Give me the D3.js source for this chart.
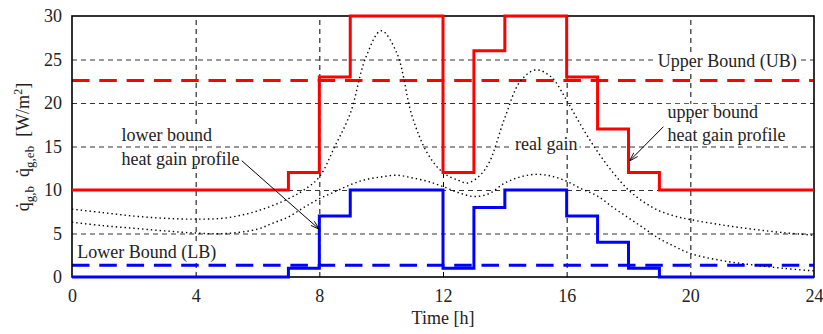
<!DOCTYPE html>
<html>
<head>
<meta charset="utf-8">
<script src="https://cdn.jsdelivr.net/npm/d3@7"></script>
<style>
  body { margin: 0; background: #fff; }
  text { font-family: "Liberation Serif", "Times New Roman", serif; fill: #222; }
</style>
</head>
<body>
<div id="chart"></div>
<script>
// Data
const xTicks = [0, 4, 8, 12, 16, 20, 24];
const yTicks = [0, 5, 10, 15, 20, 25, 30];

// step profiles (value held from stepHours[i] to stepHours[i+1])
const stepHours = [0, 7, 8, 9, 12, 13, 14, 16, 17, 18, 19, 24];
const upperProfile = [10, 12, 23, 30, 12, 26, 30, 23, 17, 12, 10];
const lowerProfile = [0, 1, 7, 10, 1, 8, 10, 7, 4, 1, 0];

const upperBound = 22.6;
const lowerBound = 1.35;

// real gain curves (dotted)
const highGainHours = [0, 1, 2, 3, 4, 5, 6, 7, 7.5, 8, 8.5, 9, 9.5, 10, 10.5, 11, 11.5, 12, 12.5, 12.8, 13.2, 13.5, 14, 14.5, 15, 15.5, 16, 16.5, 17, 17.5, 18, 18.5, 19, 19.5, 20, 21, 22, 23, 24];
const highGain = [7.8, 7.4, 7.0, 6.75, 6.65, 6.8, 7.6, 9.0, 10.0, 11.5, 15.0, 18.8, 25.2, 28.3, 25.8, 18.5, 14.2, 12.0, 11.1, 10.8, 11.7, 13.2, 18.3, 22.5, 23.8, 23.0, 20.3, 17.2, 14.4, 12.0, 10.0, 8.6, 7.6, 7.0, 6.6, 6.0, 5.5, 5.1, 4.8];

const lowGainHours = [0, 1, 2, 3, 4, 5, 6, 6.5, 7, 7.5, 8, 8.5, 9, 9.5, 10, 10.5, 11, 11.5, 12, 12.5, 13, 13.5, 14, 14.5, 15, 15.5, 16, 16.5, 17, 17.5, 18, 18.5, 19, 19.5, 20, 21, 22, 23, 24];
const lowGain = [6.3, 5.9, 5.6, 5.3, 5.05, 5.0, 5.5, 6.2, 6.9, 8.0, 9.0, 9.8, 10.6, 11.2, 11.5, 11.7, 11.4, 11.0, 10.4, 9.7, 9.25, 9.6, 10.8, 11.5, 11.8, 11.6, 11.0, 10.1, 9.3, 8.0, 6.8, 5.6, 4.4, 3.5, 2.7, 1.9, 1.4, 1.0, 0.7];

// Dimensions
const margin = { top: 16, right: 9, bottom: 57, left: 72 };
const totalW = 823, totalH = 334;
const width = totalW - margin.left - margin.right;
const height = totalH - margin.top - margin.bottom;
const serif = '"Liberation Serif", "Times New Roman", serif';

const svg = d3.select('#chart')
    .append('svg')
    .attr('width', totalW)
    .attr('height', totalH);

const defs = svg.append('defs');
defs.append('marker')
    .attr('id', 'arrow')
    .attr('viewBox', '0 0 10 10')
    .attr('refX', 10).attr('refY', 5)
    .attr('markerWidth', 9).attr('markerHeight', 9)
    .attr('markerUnits', 'userSpaceOnUse')
    .attr('orient', 'auto')
    .append('path')
    .attr('d', 'M0,2 L10,5 L0,8')
    .attr('fill', 'none')
    .attr('stroke', '#000')
    .attr('stroke-width', 1);

const g = svg.append('g')
    .attr('transform', `translate(${margin.left}, ${margin.top})`);

const x = d3.scaleLinear().domain([0, 24]).range([0, width]);
const y = d3.scaleLinear().domain([0, 30]).range([height, 0]);

// grid
const xGrid = g.append('g')
    .attr('transform', `translate(0, ${height})`)
    .call(d3.axisBottom(x).tickValues(xTicks.slice(1, -1)).tickSize(-height).tickFormat(''));
xGrid.select('.domain').remove();
xGrid.selectAll('line').attr('stroke', '#000').attr('stroke-dasharray', '5,4');

const yGrid = g.append('g')
    .call(d3.axisLeft(y).tickValues(yTicks.slice(1, -1)).tickSize(-width).tickFormat(''));
yGrid.select('.domain').remove();
yGrid.selectAll('line').attr('stroke', '#333').attr('stroke-dasharray', '5,4');

// bounds
g.append('line')
    .attr('x1', x(0)).attr('x2', x(24))
    .attr('y1', y(upperBound)).attr('y2', y(upperBound))
    .attr('stroke', '#ff0000').attr('stroke-width', 3)
    .attr('stroke-dasharray', '17.5,9.8');
g.append('line')
    .attr('x1', x(0)).attr('x2', x(24))
    .attr('y1', y(lowerBound)).attr('y2', y(lowerBound))
    .attr('stroke', '#0000ff').attr('stroke-width', 3)
    .attr('stroke-dasharray', '17.5,9.8');

// annotations (white boxes hide the grid behind the text)
const notesLayer = g.append('g');
const note = (t, v, str) => {
    const txt = notesLayer.append('text')
        .attr('x', x(t)).attr('y', y(v))
        .attr('font-size', 18)
        .text(str);
    const bb = txt.node().getBBox();
    notesLayer.insert('rect', 'text')
        .attr('x', bb.x - 2).attr('y', bb.y + 2)
        .attr('width', bb.width + 4).attr('height', bb.height - 5)
        .attr('fill', '#fff');
};

note(1.6, 15.6, 'lower bound');
note(1.6, 12.9, 'heat gain profile');
note(14.33, 14.6, 'real gain');
note(19.26, 18.3, 'upper bound');
note(19.26, 15.6, 'heat gain profile');
note(18.95, 24.1, 'Upper Bound (UB)');
note(0.17, 2.2, 'Lower Bound (LB)');

// dotted real gain curves
const curveLine = d3.line()
    .x(d => x(d[0]))
    .y(d => y(d[1]))
    .curve(d3.curveCatmullRom);

[[highGainHours, highGain], [lowGainHours, lowGain]].forEach(([hrs, vals]) => {
    g.append('path')
        .datum(hrs.map((h, i) => [h, vals[i]]))
        .attr('d', curveLine)
        .attr('fill', 'none')
        .attr('stroke', '#000')
        .attr('stroke-width', 1.4)
        .attr('stroke-dasharray', '1.4,3');
});

// frame
g.append('rect')
    .attr('x', 0).attr('y', 0)
    .attr('width', width).attr('height', height)
    .attr('fill', 'none')
    .attr('stroke', '#000')
    .attr('stroke-width', 1.6);

// step profiles
const stepLine = d3.line()
    .x(d => x(d.h))
    .y(d => y(d.v))
    .curve(d3.curveStepAfter);

const stepData = profile => stepHours.map((h, i) => ({ h, v: profile[Math.min(i, profile.length - 1)] }));

g.append('path')
    .datum(stepData(upperProfile))
    .attr('d', stepLine)
    .attr('fill', 'none')
    .attr('stroke', '#ff0000')
    .attr('stroke-width', 3);

g.append('path')
    .datum(stepData(lowerProfile))
    .attr('d', stepLine)
    .attr('fill', 'none')
    .attr('stroke', '#0000ff')
    .attr('stroke-width', 3);

// axes labels
const xAxis = g.append('g')
    .attr('transform', `translate(0, ${height})`)
    .call(d3.axisBottom(x).tickValues(xTicks).tickSize(0).tickPadding(12))
    .attr('font-family', serif)
    .attr('font-size', 18);
xAxis.select('.domain').remove();
xAxis.selectAll('text').attr('fill', '#222');

const yAxis = g.append('g')
    .call(d3.axisLeft(y).tickValues(yTicks).tickSize(0).tickPadding(10))
    .attr('font-family', serif)
    .attr('font-size', 18);
yAxis.select('.domain').remove();
yAxis.selectAll('text').attr('fill', '#222');

svg.append('text')
    .attr('x', margin.left + width / 2)
    .attr('y', 324)
    .attr('text-anchor', 'middle')
    .attr('font-size', 18)
    .text('Time [h]');

const yLabel = svg.append('text')
    .attr('transform', 'translate(29, 147) rotate(-90)')
    .attr('text-anchor', 'middle')
    .attr('font-size', 18);
yLabel.append('tspan').text('q\u0307');
yLabel.append('tspan').attr('font-size', 13).attr('dy', 5).text('g,b');
yLabel.append('tspan').attr('dy', -5).text('\u00a0\u00a0q\u0307');
yLabel.append('tspan').attr('font-size', 13).attr('dy', 5).text('g,eb');
yLabel.append('tspan').attr('dy', -5).text('\u00a0\u00a0[W/m');
yLabel.append('tspan').attr('font-size', 12).attr('dy', -7).text('2');
yLabel.append('tspan').attr('dy', 7).text(']');

// arrows
const arrow = (t1, v1, t2, v2) => g.append('line')
    .attr('x1', x(t1)).attr('y1', y(v1))
    .attr('x2', x(t2)).attr('y2', y(v2))
    .attr('stroke', '#000').attr('stroke-width', 1)
    .attr('marker-end', 'url(#arrow)');

arrow(5.49, 13.37, 8.0, 5.48);
arrow(19.13, 17.28, 18.03, 13.33);
</script>
</body>
</html>
